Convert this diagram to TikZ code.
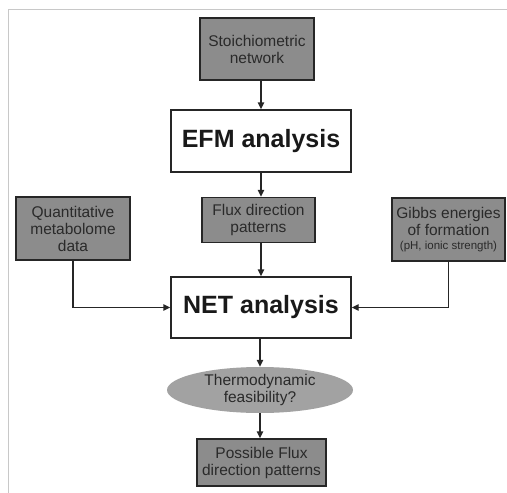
\documentclass[tikz,border=0pt]{standalone}
\usepackage{fontspec}
\setmainfont{Liberation Sans}
\usetikzlibrary{shapes.geometric,arrows.meta}
\definecolor{boxgray}{HTML}{8C8C8C}
\definecolor{ellgray}{HTML}{A2A2A2}
\definecolor{txtgray}{HTML}{2A2A2A}
\definecolor{framegray}{HTML}{C8C8C8}
\begin{document}
\begin{tikzpicture}[x=1pt,y=-1pt,
  graybox/.style={draw=black!85, line width=1.4pt, fill=boxgray, inner sep=0pt, align=center, text=txtgray, font=\fontsize{15.5}{17}\selectfont},
  bigbox/.style={draw=black!85, line width=1.4pt, fill=white, inner sep=0pt, font=\fontsize{25}{30}\selectfont\bfseries, text=black!90},
  ell/.style={ellipse, fill=ellgray, inner sep=0pt, align=center, text=txtgray, font=\fontsize{15.5}{17}\selectfont},
  arr/.style={line width=1.4pt, draw=black!85, -{Triangle[length=7pt,width=6.5pt]}}]
\useasboundingbox (0,0) rectangle (507,493);
\draw[framegray, line width=1.2pt] (8.5,493) -- (8.5,9.5) -- (507,9.5);
\node[graybox, minimum width=114pt, minimum height=62pt] (stoich) at (257,49) {Stoichiometric\\network};
\node[bigbox, minimum width=180pt, minimum height=62pt] (efm) at (261,141) {EFM analysis};
\node[graybox, minimum width=113pt, minimum height=45pt] (flux) at (258.5,220) {Flux direction\\patterns};
\node[graybox, minimum width=114pt, minimum height=63pt] (quant) at (73,228.5) {Quantitative\\metabolome\\data};
\node[graybox, minimum width=113pt, minimum height=63pt] (gibbs) at (448.5,229.5) {Gibbs energies\\of formation\\[-3pt]{\fontsize{11.5}{12}\selectfont(pH, ionic strength)}};
\node[bigbox, minimum width=180pt, minimum height=61pt] (net) at (261,307.5) {NET analysis};
\node[ell, minimum width=186pt, minimum height=46pt] (feas) at (260,390) {Thermodynamic\\feasibility?};
\node[graybox, minimum width=129pt, minimum height=47pt] (poss) at (261.5,462.5) {Possible Flux\\direction patterns};
\draw[arr] (stoich.south -| efm.north) -- (efm.north);
\draw[arr] (efm.south) -- (efm.south |- flux.north);
\draw[arr] (flux.south -| net.north) -- (net.north);
\draw[arr] (quant.south) |- (net.west);
\draw[arr] (gibbs.south) |- (net.east);
\draw[arr] (net.south -| feas.north) -- (feas.north);
\draw[arr] (feas.south) -- (feas.south |- poss.north);
\end{tikzpicture}
\end{document}
